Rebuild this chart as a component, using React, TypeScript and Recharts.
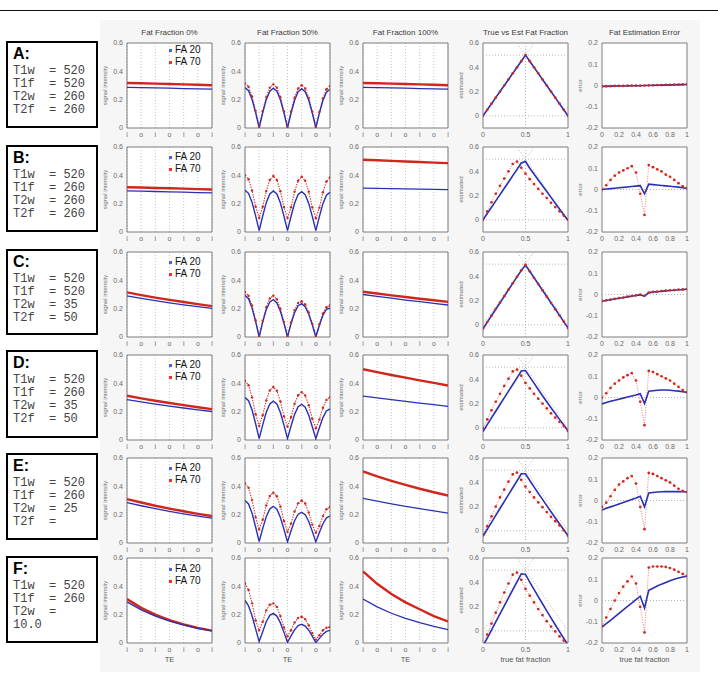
import React from 'react';
import { LineChart, Line, XAxis, YAxis, CartesianGrid, ReferenceLine, ReferenceArea } from 'recharts';

const BLUE = '#2a2fb5';
const RED = '#d1261c';
const LEG_BLUE = '#4060ff';
const LEG_RED = '#ff2a2a';

const ROW_LABELS = ['A:', 'B:', 'C:', 'D:', 'E:', 'F:'];
const ROW_PARAMS = [
  ['T1w  = 520', 'T1f  = 520', 'T2w  = 260', 'T2f  = 260'],
  ['T1w  = 520', 'T1f  = 260', 'T2w  = 260', 'T2f  = 260'],
  ['T1w  = 520', 'T1f  = 520', 'T2w  = 35', 'T2f  = 50'],
  ['T1w  = 520', 'T1f  = 260', 'T2w  = 35', 'T2f  = 50'],
  ['T1w  = 520', 'T1f  = 260', 'T2w  = 25', 'T2f  ='],
  ['T1w  = 520', 'T1f  = 260', 'T2w  =', '10.0'],
];
const COL_TITLES = ['Fat Fraction 0%', 'Fat Fraction 50%', 'Fat Fraction 100%', 'True vs Est Fat Fraction', 'Fat Estimation Error'];
const Y_LABELS = ['signal intensity', 'signal intensity', 'signal intensity', 'estimated', 'error'];
const X_LABELS = ['TE', 'TE', 'TE', 'true fat fraction', 'true fat fraction'];
const TE_TICK_LABELS = ['i', 'o', 'i', 'o', 'i', 'o', 'i'];
const LEGEND_LABELS = ['FA 20', 'FA 70'];

const TE_X = [0, 1, 2, 3, 4, 5, 6];
const TE_X_FINE = [0, 0.25, 0.5, 0.75, 1, 1.25, 1.5, 1.75, 2, 2.25, 2.5, 2.75, 3, 3.25, 3.5, 3.75, 4, 4.25, 4.5, 4.75, 5, 5.25, 5.5, 5.75, 6];
const FF_X = [0, 0.05, 0.1, 0.15, 0.2, 0.25, 0.3, 0.35, 0.4, 0.45, 0.5, 0.55, 0.6, 0.65, 0.7, 0.75, 0.8, 0.85, 0.9, 0.95, 1];

const SIG_TICKS = [0, 0.2, 0.4, 0.6];
const EST_TICKS = [0, 0.2, 0.4, 0.6];
const ERR_TICKS = [-0.2, -0.1, 0, 0.1, 0.2];
const EST_X_TICKS = [0, 0.5, 1];
const ERR_X_TICKS = [0, 0.2, 0.4, 0.6, 0.8, 1];

// ---- Fat Fraction 0% ----
const FF0_A_BLUE = [0.287, 0.285, 0.283, 0.281, 0.278, 0.276, 0.274];
const FF0_A_RED = [0.318, 0.316, 0.313, 0.311, 0.308, 0.305, 0.302];
const FF0_B_BLUE = [0.29, 0.288, 0.286, 0.283, 0.281, 0.278, 0.276];
const FF0_B_RED = [0.316, 0.314, 0.311, 0.309, 0.306, 0.303, 0.3];
const FF0_C_BLUE = [0.29, 0.272, 0.256, 0.241, 0.227, 0.214, 0.202];
const FF0_C_RED = [0.315, 0.296, 0.278, 0.262, 0.247, 0.232, 0.218];
const FF0_D_BLUE = [0.285, 0.269, 0.253, 0.239, 0.226, 0.213, 0.201];
const FF0_D_RED = [0.312, 0.294, 0.277, 0.261, 0.246, 0.231, 0.218];
const FF0_E_BLUE = [0.285, 0.263, 0.242, 0.223, 0.206, 0.19, 0.175];
const FF0_E_RED = [0.31, 0.286, 0.263, 0.243, 0.224, 0.206, 0.19];
const FF0_F_BLUE = [0.29, 0.234, 0.19, 0.155, 0.127, 0.104, 0.085];
const FF0_F_RED = [0.31, 0.248, 0.2, 0.161, 0.131, 0.106, 0.087];

// ---- Fat Fraction 50% ----
const FF50_A_BLUE = [0.285, 0.263, 0.201, 0.109, 0, 0.108, 0.2, 0.26, 0.281, 0.26, 0.199, 0.107, 0, 0.106, 0.196, 0.256, 0.277, 0.256, 0.196, 0.106, 0, 0.105, 0.194, 0.253, 0.274];
const FF50_A_RED = [0.315, 0.291, 0.223, 0.121, 0.01, 0.118, 0.218, 0.285, 0.308, 0.285, 0.218, 0.118, 0.01, 0.116, 0.214, 0.28, 0.302, 0.279, 0.213, 0.115, 0.01, 0.113, 0.209, 0.274, 0.296];
const FF50_B_BLUE = [0.295, 0.273, 0.209, 0.114, 0.01, 0.113, 0.207, 0.269, 0.29, 0.268, 0.205, 0.112, 0.01, 0.111, 0.203, 0.265, 0.285, 0.263, 0.202, 0.11, 0.01, 0.109, 0.2, 0.26, 0.28];
const FF50_B_RED = [0.4, 0.372, 0.292, 0.179, 0.1, 0.178, 0.289, 0.367, 0.395, 0.367, 0.288, 0.176, 0.098, 0.175, 0.285, 0.362, 0.39, 0.362, 0.284, 0.174, 0.097, 0.172, 0.281, 0.357, 0.385];
const FF50_C_BLUE = [0.295, 0.27, 0.204, 0.109, 0, 0.105, 0.193, 0.248, 0.264, 0.24, 0.181, 0.097, 0, 0.094, 0.172, 0.221, 0.235, 0.214, 0.161, 0.086, 0, 0.083, 0.153, 0.196, 0.205];
const FF50_C_RED = [0.318, 0.292, 0.222, 0.119, 0.005, 0.115, 0.211, 0.272, 0.292, 0.266, 0.2, 0.106, 0.005, 0.102, 0.189, 0.24, 0.252, 0.23, 0.174, 0.093, 0.005, 0.09, 0.166, 0.21, 0.224];
const FF50_D_BLUE = [0.3, 0.277, 0.212, 0.115, 0.01, 0.107, 0.196, 0.255, 0.274, 0.254, 0.194, 0.105, 0.01, 0.099, 0.181, 0.235, 0.252, 0.231, 0.175, 0.094, 0.01, 0.086, 0.158, 0.205, 0.22];
const FF50_D_RED = [0.417, 0.387, 0.301, 0.182, 0.1, 0.175, 0.28, 0.35, 0.374, 0.348, 0.272, 0.167, 0.093, 0.162, 0.256, 0.316, 0.338, 0.314, 0.245, 0.15, 0.083, 0.145, 0.228, 0.283, 0.302];
const FF50_E_BLUE = [0.3, 0.276, 0.21, 0.113, 0.01, 0.102, 0.186, 0.241, 0.259, 0.238, 0.18, 0.096, 0.008, 0.086, 0.157, 0.203, 0.216, 0.2, 0.152, 0.082, 0.008, 0.074, 0.136, 0.178, 0.19];
const FF50_E_RED = [0.42, 0.39, 0.303, 0.183, 0.096, 0.165, 0.265, 0.332, 0.355, 0.33, 0.258, 0.155, 0.079, 0.137, 0.222, 0.28, 0.3, 0.279, 0.215, 0.13, 0.072, 0.12, 0.19, 0.238, 0.254];
const FF50_F_BLUE = [0.3, 0.262, 0.19, 0.1, 0.01, 0.08, 0.15, 0.195, 0.209, 0.19, 0.142, 0.075, 0.005, 0.05, 0.093, 0.123, 0.132, 0.12, 0.09, 0.048, 0.003, 0.033, 0.062, 0.082, 0.089];
const FF50_F_RED = [0.42, 0.375, 0.28, 0.16, 0.089, 0.15, 0.23, 0.27, 0.28, 0.255, 0.19, 0.11, 0.048, 0.09, 0.145, 0.177, 0.185, 0.168, 0.125, 0.07, 0.024, 0.055, 0.09, 0.108, 0.113];

// ---- Fat Fraction 100% ----
const FF100_A_BLUE = [0.287, 0.285, 0.283, 0.281, 0.278, 0.276, 0.274];
const FF100_A_RED = [0.318, 0.316, 0.313, 0.311, 0.308, 0.305, 0.302];
const FF100_B_BLUE = [0.31, 0.308, 0.306, 0.305, 0.303, 0.301, 0.299];
const FF100_B_RED = [0.51, 0.506, 0.502, 0.498, 0.494, 0.49, 0.486];
const FF100_C_BLUE = [0.3, 0.287, 0.274, 0.261, 0.249, 0.237, 0.226];
const FF100_C_RED = [0.32, 0.307, 0.294, 0.282, 0.27, 0.259, 0.248];
const FF100_D_BLUE = [0.31, 0.297, 0.285, 0.273, 0.261, 0.249, 0.238];
const FF100_D_RED = [0.5, 0.479, 0.459, 0.44, 0.421, 0.403, 0.385];
const FF100_E_BLUE = [0.315, 0.295, 0.276, 0.259, 0.242, 0.226, 0.211];
const FF100_E_RED = [0.505, 0.471, 0.439, 0.41, 0.383, 0.358, 0.335];
const FF100_F_BLUE = [0.31, 0.255, 0.21, 0.174, 0.143, 0.117, 0.095];
const FF100_F_RED = [0.505, 0.418, 0.346, 0.287, 0.238, 0.19, 0.152];

// ---- True vs Estimated fat fraction ----
const EST_A_BLUE = [0, 0.05, 0.1, 0.15, 0.2, 0.25, 0.3, 0.35, 0.4, 0.45, 0.5, 0.45, 0.4, 0.35, 0.3, 0.25, 0.2, 0.15, 0.1, 0.05, 0];
const EST_A_RED = [0, 0.05, 0.1, 0.15, 0.2, 0.25, 0.3, 0.35, 0.4, 0.45, 0.5, 0.45, 0.4, 0.35, 0.3, 0.25, 0.2, 0.15, 0.1, 0.05, 0];
const EST_B_BLUE = [0, 0.052, 0.104, 0.156, 0.208, 0.26, 0.312, 0.364, 0.416, 0.468, 0.48, 0.425, 0.377, 0.329, 0.281, 0.233, 0.185, 0.137, 0.089, 0.042, -0.005];
const EST_B_RED = [0, 0.07, 0.145, 0.215, 0.28, 0.34, 0.4, 0.46, 0.48, 0.43, 0.38, 0.335, 0.295, 0.255, 0.215, 0.18, 0.14, 0.105, 0.07, 0.035, 0];
const EST_C_BLUE = [-0.032, 0.022, 0.075, 0.129, 0.182, 0.235, 0.289, 0.342, 0.395, 0.448, 0.492, 0.442, 0.389, 0.337, 0.285, 0.233, 0.181, 0.13, 0.078, 0.027, -0.025];
const EST_C_RED = [-0.03, 0.023, 0.076, 0.13, 0.183, 0.236, 0.29, 0.343, 0.396, 0.449, 0.494, 0.441, 0.388, 0.336, 0.284, 0.232, 0.18, 0.129, 0.077, 0.026, -0.026];
const EST_D_BLUE = [-0.03, 0.026, 0.082, 0.137, 0.192, 0.247, 0.302, 0.357, 0.412, 0.468, 0.472, 0.42, 0.368, 0.316, 0.265, 0.215, 0.166, 0.118, 0.07, 0.023, -0.024];
const EST_D_RED = [0, 0.07, 0.145, 0.215, 0.28, 0.345, 0.405, 0.465, 0.48, 0.43, 0.37, 0.325, 0.28, 0.24, 0.2, 0.16, 0.12, 0.085, 0.05, 0.015, -0.025];
const EST_E_BLUE = [-0.045, 0.013, 0.07, 0.127, 0.184, 0.241, 0.298, 0.355, 0.412, 0.47, 0.47, 0.415, 0.362, 0.31, 0.259, 0.208, 0.158, 0.108, 0.058, 0.009, -0.04];
const EST_E_RED = [-0.03, 0.04, 0.12, 0.2, 0.275, 0.34, 0.405, 0.465, 0.48, 0.42, 0.365, 0.32, 0.275, 0.235, 0.195, 0.155, 0.115, 0.08, 0.045, 0.005, -0.04];
const EST_F_BLUE = [-0.125, -0.059, 0.007, 0.073, 0.139, 0.206, 0.272, 0.338, 0.404, 0.47, 0.465, 0.402, 0.342, 0.282, 0.223, 0.165, 0.107, 0.05, -0.006, -0.061, -0.115];
const EST_F_RED = [-0.12, -0.03, 0.06, 0.15, 0.235, 0.315, 0.39, 0.463, 0.48, 0.42, 0.345, 0.29, 0.235, 0.18, 0.13, 0.08, 0.035, -0.005, -0.045, -0.08, -0.115];

// ---- Fat estimation error ----
const ERR_A_BLUE = [-0.004, -0.004, -0.003, -0.003, -0.002, -0.002, -0.002, -0.001, -0.001, -0.001, 0, 0, 0.001, 0.001, 0.002, 0.002, 0.003, 0.003, 0.004, 0.004, 0.005];
const ERR_A_RED = [-0.003, -0.003, -0.003, -0.002, -0.002, -0.002, -0.001, -0.001, -0.001, 0, 0, 0.001, 0.001, 0.002, 0.002, 0.003, 0.003, 0.004, 0.004, 0.005, 0.006];
const ERR_B_BLUE = [0, 0.002, 0.004, 0.006, 0.008, 0.01, 0.012, 0.014, 0.016, 0.018, -0.02, 0.025, 0.023, 0.021, 0.019, 0.017, 0.015, 0.013, 0.011, 0.008, 0.005];
const ERR_B_RED = [0, 0.02, 0.045, 0.065, 0.08, 0.09, 0.1, 0.11, 0.08, -0.02, -0.12, 0.115, 0.105, 0.095, 0.085, 0.07, 0.06, 0.045, 0.03, 0.015, 0.005];
const ERR_C_BLUE = [-0.032, -0.028, -0.025, -0.021, -0.018, -0.015, -0.011, -0.008, -0.005, -0.002, -0.008, 0.008, 0.011, 0.013, 0.015, 0.017, 0.019, 0.02, 0.022, 0.023, 0.025];
const ERR_C_RED = [-0.03, -0.027, -0.024, -0.02, -0.017, -0.014, -0.01, -0.007, -0.004, -0.001, -0.006, 0.009, 0.012, 0.014, 0.016, 0.018, 0.02, 0.021, 0.023, 0.024, 0.026];
const ERR_D_BLUE = [-0.03, -0.024, -0.018, -0.013, -0.008, -0.003, 0.002, 0.007, 0.012, 0.018, -0.028, 0.03, 0.032, 0.034, 0.035, 0.035, 0.034, 0.032, 0.03, 0.027, 0.024];
const ERR_D_RED = [0, 0.02, 0.045, 0.065, 0.08, 0.095, 0.105, 0.115, 0.08, -0.02, -0.13, 0.125, 0.12, 0.11, 0.1, 0.09, 0.08, 0.065, 0.05, 0.035, 0.025];
const ERR_E_BLUE = [-0.045, -0.037, -0.03, -0.023, -0.016, -0.009, -0.002, 0.005, 0.012, 0.02, -0.03, 0.035, 0.038, 0.04, 0.041, 0.042, 0.042, 0.042, 0.042, 0.041, 0.04];
const ERR_E_RED = [-0.03, -0.01, 0.02, 0.05, 0.075, 0.09, 0.105, 0.115, 0.08, -0.03, -0.135, 0.13, 0.125, 0.115, 0.105, 0.095, 0.085, 0.07, 0.055, 0.045, 0.04];
const ERR_F_BLUE = [-0.125, -0.109, -0.093, -0.077, -0.061, -0.044, -0.028, -0.012, 0.004, 0.02, -0.035, 0.048, 0.058, 0.068, 0.077, 0.085, 0.093, 0.1, 0.106, 0.111, 0.115];
const ERR_F_RED = [-0.12, -0.08, -0.04, 0, 0.035, 0.065, 0.09, 0.113, 0.08, -0.03, -0.15, 0.155, 0.16, 0.16, 0.16, 0.158, 0.153, 0.145, 0.135, 0.125, 0.115];

const FF0_BLUE = [FF0_A_BLUE, FF0_B_BLUE, FF0_C_BLUE, FF0_D_BLUE, FF0_E_BLUE, FF0_F_BLUE];
const FF0_RED = [FF0_A_RED, FF0_B_RED, FF0_C_RED, FF0_D_RED, FF0_E_RED, FF0_F_RED];
const FF50_BLUE = [FF50_A_BLUE, FF50_B_BLUE, FF50_C_BLUE, FF50_D_BLUE, FF50_E_BLUE, FF50_F_BLUE];
const FF50_RED = [FF50_A_RED, FF50_B_RED, FF50_C_RED, FF50_D_RED, FF50_E_RED, FF50_F_RED];
const FF100_BLUE = [FF100_A_BLUE, FF100_B_BLUE, FF100_C_BLUE, FF100_D_BLUE, FF100_E_BLUE, FF100_F_BLUE];
const FF100_RED = [FF100_A_RED, FF100_B_RED, FF100_C_RED, FF100_D_RED, FF100_E_RED, FF100_F_RED];
const EST_BLUE = [EST_A_BLUE, EST_B_BLUE, EST_C_BLUE, EST_D_BLUE, EST_E_BLUE, EST_F_BLUE];
const EST_RED = [EST_A_RED, EST_B_RED, EST_C_RED, EST_D_RED, EST_E_RED, EST_F_RED];
const ERR_BLUE = [ERR_A_BLUE, ERR_B_BLUE, ERR_C_BLUE, ERR_D_BLUE, ERR_E_BLUE, ERR_F_BLUE];
const ERR_RED = [ERR_A_RED, ERR_B_RED, ERR_C_RED, ERR_D_RED, ERR_E_RED, ERR_F_RED];

// ---- layout ----
const COL_X = [127, 245, 363, 483, 602];
const ROW_Y = [43, 147, 252, 355, 458, 558];
const BOX_TOP = [41, 145, 249, 350, 453, 556];
const BOX_H = [87, 87, 86, 88, 87, 87];
const LEGEND_DY = [1, 4, 4, 4, 4, 5];
const YW = 34;
const MT = 4;
const MR = 4;
const XH = 24;
const PW = 85;
const PH = 85;
const FONT = '"Liberation Sans", Arial, sans-serif';

type SeriesSpec = { key: string; color: string; width: number; dash?: string; dotR?: number };

type PanelProps = {
  fx: number;
  fy: number;
  rows: Array<Record<string, number>>;
  xDomain: [number, number];
  yDomain: [number, number];
  xTicks: number[];
  yTicks: number[];
  xFmt?: (v: number) => string;
  ylabel: string;
  xlabel?: string;
  vgrid?: boolean;
  kind: 'sig' | 'est' | 'err';
  series: SeriesSpec[];
  legendDy?: number;
};

const refStroke = '#b4b4b4';

function Panel(p: PanelProps) {
  const W = YW + PW + MR;
  const H = MT + PH + XH;
  const tickStyle = { fontSize: 7, fill: '#6a6a6a', fontFamily: FONT };
  return (
    <div style={{ position: 'absolute', left: p.fx - YW, top: p.fy - MT, width: W, height: H }}>
      <LineChart width={W} height={H} data={p.rows} margin={{ top: MT, right: MR, bottom: 0, left: 0 }}>
        <CartesianGrid fill="#ffffff" horizontal={false} vertical={!!p.vgrid} stroke="#c4c4c4" strokeDasharray="1 2" />
        <XAxis
          dataKey="x"
          type="number"
          domain={p.xDomain}
          ticks={p.xTicks}
          interval={0}
          allowDataOverflow
          axisLine={false}
          tickLine={false}
          tickSize={2}
          tickMargin={2}
          height={XH}
          tickFormatter={p.xFmt}
          tick={tickStyle}
          label={p.xlabel ? { value: p.xlabel, position: 'insideBottom', offset: 5, style: { fontSize: 7.5, fill: '#555', fontFamily: FONT } } : undefined}
        />
        <YAxis
          type="number"
          domain={p.yDomain}
          ticks={p.yTicks}
          interval={0}
          allowDataOverflow
          width={YW}
          axisLine={false}
          tickLine={false}
          tickSize={2}
          tickMargin={2}
          tick={tickStyle}
          label={{ value: p.ylabel, angle: -90, position: 'insideLeft', offset: 12, style: { textAnchor: 'middle', fontSize: 6, fill: '#707070', fontFamily: FONT } }}
        />
        {p.kind === 'est' && (
          <ReferenceLine y={0} stroke={refStroke} strokeDasharray="1 2" />
        )}
        {p.kind === 'est' && (
          <ReferenceLine y={0.5} stroke={refStroke} strokeDasharray="1 2" />
        )}
        {p.kind === 'est' && (
          <ReferenceLine x={0.5} stroke={refStroke} strokeDasharray="1 2" />
        )}
        {p.kind === 'est' && (
          <ReferenceLine segment={[{ x: 0, y: 0 }, { x: 1, y: 1 }]} stroke={refStroke} strokeDasharray="1 2" ifOverflow="hidden" />
        )}
        {p.kind === 'est' && (
          <ReferenceLine segment={[{ x: 0, y: 1 }, { x: 1, y: 0 }]} stroke={refStroke} strokeDasharray="1 2" ifOverflow="hidden" />
        )}
        {p.kind === 'err' && (
          <ReferenceLine y={0} stroke={refStroke} strokeDasharray="1 2" />
        )}
        {p.series.map((s) => (
          <Line
            key={s.key}
            dataKey={s.key}
            type="linear"
            stroke={s.color}
            strokeWidth={s.width}
            strokeDasharray={s.dash}
            dot={s.dotR ? { r: s.dotR, fill: s.color, stroke: 'none' } : false}
            activeDot={false}
            isAnimationActive={false}
          />
        ))}
        <ReferenceArea
          x1={p.xDomain[0]}
          x2={p.xDomain[1]}
          y1={p.yDomain[0]}
          y2={p.yDomain[1]}
          fill="none"
          fillOpacity={0}
          stroke="#7c7c7c"
          strokeWidth={1}
          ifOverflow="visible"
        />
      </LineChart>
      {p.legendDy !== undefined && (
        <div style={{ position: 'absolute', left: YW + 42, top: MT + p.legendDy, fontFamily: FONT, fontSize: 10, lineHeight: '12px', color: '#111' }}>
          {LEGEND_LABELS.map((t, i) => (
            <div key={t} style={{ display: 'flex', alignItems: 'center', whiteSpace: 'nowrap' }}>
              <span style={{ display: 'inline-block', width: 3, height: 3, background: i === 0 ? LEG_BLUE : LEG_RED, marginRight: 3 }} />
              <span>{t}</span>
            </div>
          ))}
        </div>
      )}
    </div>
  );
}

const teFmt = (v: number) => TE_TICK_LABELS[Math.round(v)] ?? '';
const numFmt = (v: number) => String(v);

const sigSolid: SeriesSpec[] = [
  { key: 'r', color: RED, width: 2.4 },
  { key: 'b', color: BLUE, width: 1.3 },
];
const sigDotted: SeriesSpec[] = [
  { key: 'r', color: RED, width: 1.1, dash: '1.3 1.3', dotR: 1.2 },
  { key: 'b', color: BLUE, width: 1.4 },
];
const ffSeries: SeriesSpec[] = [
  { key: 'r', color: RED, width: 0.6, dash: '1 1.5', dotR: 1.35 },
  { key: 'b', color: BLUE, width: 1.6 },
];

function buildRows(xs: number[], blue: number[], red: number[]) {
  return xs.map((x, i) => ({ x, b: blue[i], r: red[i] }));
}

function Row({ r }: { r: number }) {
  const last = r === ROW_Y.length - 1;
  const fy = ROW_Y[r];
  return (
    <>
      <Panel fx={COL_X[0]} fy={fy} rows={buildRows(TE_X, FF0_BLUE[r], FF0_RED[r])} xDomain={[0, 6]} yDomain={[0, 0.6]} xTicks={TE_X} yTicks={SIG_TICKS} xFmt={teFmt} ylabel={Y_LABELS[0]} xlabel={last ? X_LABELS[0] : undefined} vgrid kind="sig" series={sigSolid} legendDy={LEGEND_DY[r]} />
      <Panel fx={COL_X[1]} fy={fy} rows={buildRows(TE_X_FINE, FF50_BLUE[r], FF50_RED[r])} xDomain={[0, 6]} yDomain={[0, 0.6]} xTicks={TE_X} yTicks={SIG_TICKS} xFmt={teFmt} ylabel={Y_LABELS[1]} xlabel={last ? X_LABELS[1] : undefined} vgrid kind="sig" series={sigDotted} />
      <Panel fx={COL_X[2]} fy={fy} rows={buildRows(TE_X, FF100_BLUE[r], FF100_RED[r])} xDomain={[0, 6]} yDomain={[0, 0.6]} xTicks={TE_X} yTicks={SIG_TICKS} xFmt={teFmt} ylabel={Y_LABELS[2]} xlabel={last ? X_LABELS[2] : undefined} vgrid kind="sig" series={sigSolid} />
      <Panel fx={COL_X[3]} fy={fy} rows={buildRows(FF_X, EST_BLUE[r], EST_RED[r])} xDomain={[0, 1]} yDomain={[-0.1, 0.6]} xTicks={EST_X_TICKS} yTicks={EST_TICKS} xFmt={numFmt} ylabel={Y_LABELS[3]} xlabel={last ? X_LABELS[3] : undefined} kind="est" series={ffSeries} />
      <Panel fx={COL_X[4]} fy={fy} rows={buildRows(FF_X, ERR_BLUE[r], ERR_RED[r])} xDomain={[0, 1]} yDomain={[-0.2, 0.2]} xTicks={ERR_X_TICKS} yTicks={ERR_TICKS} xFmt={numFmt} ylabel={Y_LABELS[4]} xlabel={last ? X_LABELS[4] : undefined} kind="err" series={ffSeries} />
    </>
  );
}

function ParamBox({ r }: { r: number }) {
  return (
    <div style={{ position: 'absolute', left: 6, top: BOX_TOP[r], width: 92, height: BOX_H[r], boxSizing: 'border-box', border: '2px solid #000', background: '#fff' }}>
      <div style={{ position: 'absolute', left: 5, top: 3, fontFamily: FONT, fontWeight: 'bold', fontSize: 16, lineHeight: '16px', color: '#000' }}>{ROW_LABELS[r]}</div>
      <div style={{ position: 'absolute', left: 5, top: 22, fontFamily: '"Liberation Mono", "Courier New", monospace', fontSize: 12, lineHeight: '13px', color: '#444', whiteSpace: 'pre' }}>
        {ROW_PARAMS[r].map((t, i) => (
          <div key={i}>{t}</div>
        ))}
      </div>
    </div>
  );
}

export default function App() {
  return (
    <div style={{ position: 'fixed', left: 0, top: 0, width: 718, height: 681, background: '#fff', overflow: 'hidden', fontFamily: FONT }}>
      <div style={{ position: 'absolute', left: 0, top: 10, width: 718, height: 1, background: '#111' }} />
      <div style={{ position: 'absolute', left: 100, top: 20, width: 600, height: 652, background: '#f6f6f6' }} />
      {COL_TITLES.map((t, i) => (
        <div key={t} style={{ position: 'absolute', left: COL_X[i] - 20, width: PW + 40, top: 28, textAlign: 'center', fontSize: 8, lineHeight: '10px', color: '#3a3a3a', fontFamily: FONT, whiteSpace: 'nowrap' }}>{t}</div>
      ))}
      {ROW_Y.map((_, r) => (
        <Row key={r} r={r} />
      ))}
      {ROW_Y.map((_, r) => (
        <ParamBox key={'b' + r} r={r} />
      ))}
    </div>
  );
}
